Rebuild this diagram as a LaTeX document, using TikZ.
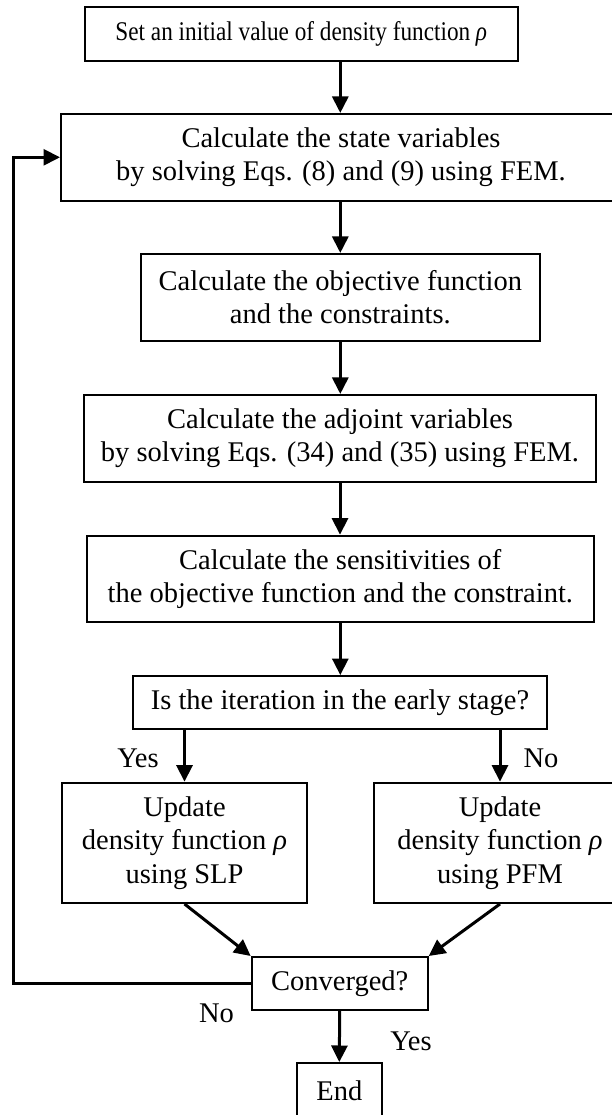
\documentclass[tikz,border=0pt]{standalone}
\usepackage{fontspec}
\setmainfont{Liberation Serif}
\newfontfamily\narrowfont{Liberation Serif}[FakeStretch=0.86]
\usetikzlibrary{arrows.meta,calc}

\newcommand{\flowfont}{\fontsize{28.5}{33.5}\selectfont}
\newcommand{\initfont}{\narrowfont\fontsize{27}{31}\selectfont}

\begin{document}
\begin{tikzpicture}[
    x=1pt, y=-1pt,
    box/.style={rectangle, draw, line width=2pt, inner sep=0pt, align=center, font=\flowfont},
    lbl/.style={inner sep=0pt, font=\flowfont},
    arrow/.style={-{Triangle[length=16.5pt,width=16pt]}, line width=3pt}
]
\useasboundingbox (0,0) rectangle (612,1115);

% Steps of the optimisation loop, top to bottom
\node[box, font=\initfont, minimum width=432.6pt, minimum height=54pt] (init) at (301.3, 34) {Set an initial value of density function \textit{ρ}};
\node[box, minimum width=560pt, minimum height=86.7pt] (state) at (341, 157.3) {Calculate the state variables\\by solving Eqs. (8) and (9) using FEM.};
\node[box, minimum width=399.3pt, minimum height=86.7pt] (objective) at (340.3, 297.3) {Calculate the objective function\\and the constraints.};
\node[box, minimum width=511.7pt, minimum height=86.7pt] (adjoint) at (340, 438.3) {Calculate the adjoint variables\\by solving Eqs. (34) and (35) using FEM.};
\node[box, minimum width=507.3pt, minimum height=86.7pt] (sens) at (340.3, 579) {Calculate the sensitivities of\\the objective function and the constraint.};
\node[box, minimum width=413.6pt, minimum height=53.3pt] (stage) at (340, 702.7) {Is the iteration in the early stage?};

% Two update branches
\node[box, minimum width=245.6pt, minimum height=120.3pt] (slp) at (184.5, 842.8) {Update\\density function \textit{ρ}\\using SLP};
\node[box, minimum width=252pt, minimum height=120.3pt] (pfm) at (500, 842.8) {Update\\density function \textit{ρ}\\using PFM};

\node[box, minimum width=176pt, minimum height=53pt] (conv) at (339.7, 983.5) {Converged?};
\node[box, minimum width=84.7pt, minimum height=56pt] (end) at (339.3, 1091) {End};

% Branch labels
\node[lbl] (yes1) at (138, 758) {Yes};
\node[lbl] (no1) at (541, 758) {No};
\node[lbl] (no2) at (216.5, 1013) {No};
\node[lbl] (yes2) at (411, 1041.7) {Yes};

\coordinate (back) at (13.7, 983.5);

% Connectors
\draw[arrow] (init.south -| objective.north) -- (state.north -| objective.north);
\draw[arrow] (state.south -| objective.north) -- (objective.north);
\draw[arrow] (objective.south) -- (objective.south |- adjoint.north);
\draw[arrow] (adjoint.south) -- (adjoint.south |- sens.north);
\draw[arrow] (sens.south) -- (sens.south |- stage.north);
\draw[arrow] (stage.south -| slp.north) -- (slp.north);
\draw[arrow] (stage.south -| pfm.north) -- (pfm.north);
\draw[arrow] (slp.south) -- (conv.north west);
\draw[arrow] (pfm.south) -- (conv.north east);
\draw[arrow] (conv.south) -- (end.north);
\draw[arrow] (conv.west) -- (back) |- (state.west);

\end{tikzpicture}
\end{document}
